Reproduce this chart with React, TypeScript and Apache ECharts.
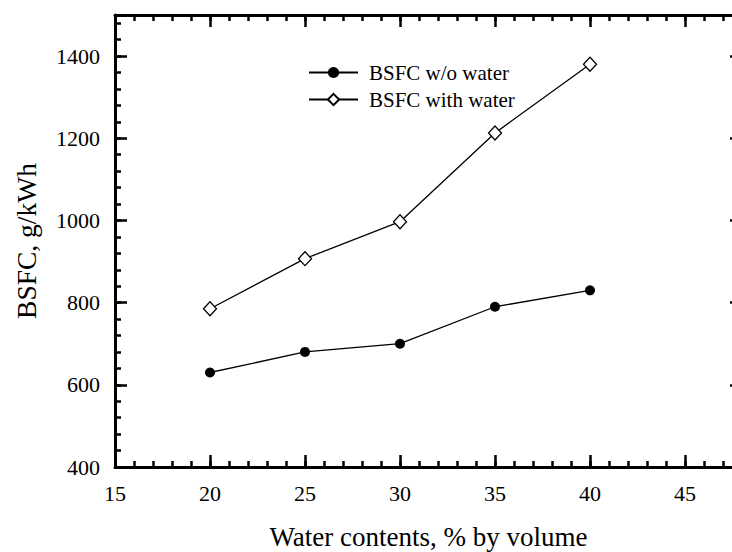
import React, { useEffect, useRef } from "react";
import * as echarts from "echarts";

const waterContents = [20, 25, 30, 35, 40];
const bsfcWithoutWater = [630, 680, 700, 790, 830];
const bsfcWithWater = [785, 907, 997, 1213, 1380];
const seriesNames = ["BSFC w/o water", "BSFC with water"];
const xTitle = "Water contents, % by volume";
const yTitle = "BSFC, g/kWh";

const FONT = "'Liberation Serif', 'Times New Roman', serif";

export default function App() {
  const ref = useRef<HTMLDivElement>(null);
  useEffect(() => {
    if (!ref.current) return;
    const chart = echarts.init(ref.current, undefined, { renderer: "svg" });
    const black = "#000";
    const xMin = 15, xMax = 48, yMin = 400, yMax = 1500;
    const majorTick = (len: number, show = true) => ({
      show,
      inside: true,
      length: len,
      lineStyle: { color: black, width: 2.5 },
    });
    const baseX = { type: "value" as const, min: xMin, max: xMax, splitLine: { show: false } };
    const baseY = { type: "value" as const, min: yMin, max: yMax, splitLine: { show: false } };
    chart.setOption({
      animation: false,
      backgroundColor: "#fff",
      grid: { left: 115, right: -10, top: 15, bottom: 85, containLabel: false, outerBoundsMode: "none" },
      legend: {
        orient: "vertical",
        left: 303,
        top: 57,
        itemWidth: 49,
        itemHeight: 14,
        itemGap: 6,
        textStyle: { fontFamily: FONT, fontSize: 21, color: black, lineHeight: 20, padding: [0, 0, 0, 6] },
        data: seriesNames,
      },
      xAxis: [
        {
          ...baseX,
          position: "bottom",
          interval: 5,
          name: xTitle,
          nameLocation: "middle",
          nameGap: 56,
          nameTextStyle: { fontFamily: FONT, fontSize: 27, color: black },
          axisLine: { show: true, lineStyle: { color: black, width: 3 } },
          axisTick: majorTick(12),
          axisLabel: { fontFamily: FONT, fontSize: 22, color: black, margin: 15, showMaxLabel: false, formatter: (v: number) => String(v) },
        },
        {
          ...baseX,
          position: "bottom",
          interval: 1,
          axisLine: { show: false },
          axisTick: majorTick(6),
          axisLabel: { show: false },
        },
        {
          ...baseX,
          position: "top",
          interval: 5,
          axisLine: { show: true, lineStyle: { color: black, width: 3 } },
          axisTick: majorTick(12),
          axisLabel: { show: false },
        },
        {
          ...baseX,
          position: "top",
          interval: 1,
          axisLine: { show: false },
          axisTick: majorTick(6),
          axisLabel: { show: false },
        },
      ],
      yAxis: [
        {
          ...baseY,
          position: "left",
          interval: 200,
          name: yTitle,
          nameLocation: "middle",
          nameGap: 75,
          nameTextStyle: { fontFamily: FONT, fontSize: 27.5, color: black },
          axisLine: { show: true, lineStyle: { color: black, width: 3 } },
          axisTick: majorTick(12),
          axisLabel: { fontFamily: FONT, fontSize: 22, color: black, margin: 15, showMaxLabel: false, formatter: (v: number) => String(v) },
        },
        {
          ...baseY,
          position: "left",
          interval: 40,
          axisLine: { show: false },
          axisTick: majorTick(6),
          axisLabel: { show: false },
        },
        {
          ...baseY,
          position: "right",
          interval: 200,
          axisLine: { show: true, lineStyle: { color: black, width: 3 } },
          axisTick: majorTick(12),
          axisLabel: { show: false },
        },
      ],
      series: [
        {
          name: seriesNames[0],
          type: "line",
          xAxisIndex: 0,
          yAxisIndex: 0,
          data: waterContents.map((x, i) => [x, bsfcWithoutWater[i]]),
          symbol: "circle",
          symbolSize: 10,
          showAllSymbol: true,
          lineStyle: { color: black, width: 1.3 },
          itemStyle: { color: black, borderColor: black, borderWidth: 0 },
        },
        {
          name: seriesNames[1],
          type: "line",
          xAxisIndex: 0,
          yAxisIndex: 0,
          data: waterContents.map((x, i) => [x, bsfcWithWater[i]]),
          symbol: "diamond",
          symbolSize: [13, 14],
          showAllSymbol: true,
          lineStyle: { color: black, width: 1.3 },
          itemStyle: { color: "#fff", borderColor: black, borderWidth: 1.3 },
        },
      ],
    });
    return () => chart.dispose();
  }, []);
  return <div ref={ref} style={{ width: 732, height: 552, position: "absolute", left: 0, top: 0 }} />;
}
